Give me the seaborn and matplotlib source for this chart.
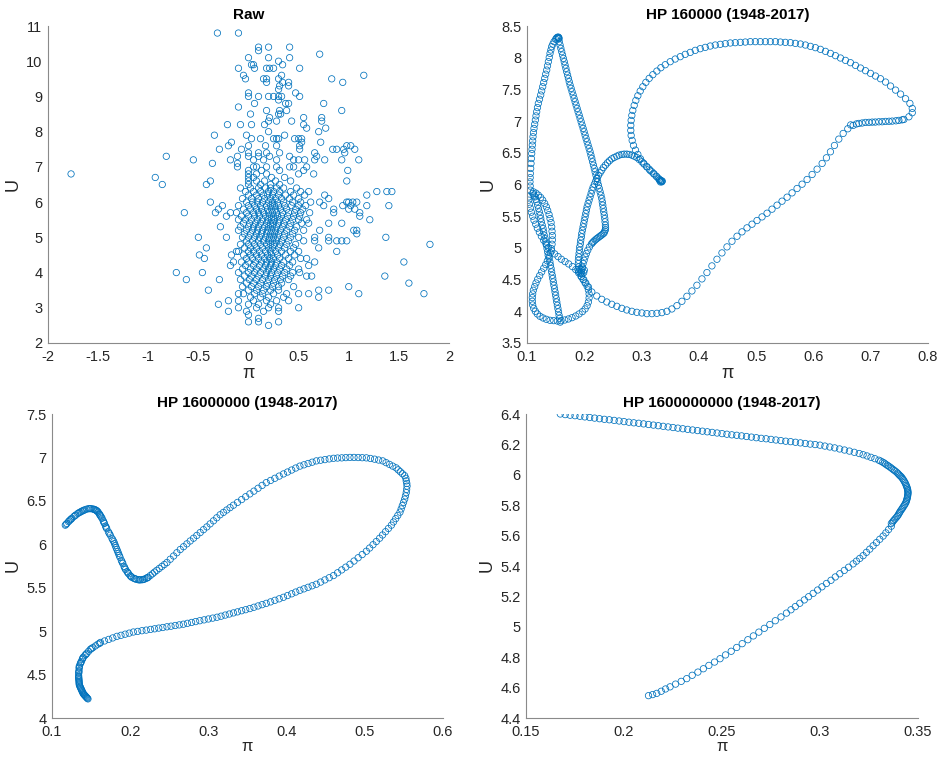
import numpy as np
import pandas as pd
import matplotlib
matplotlib.use("Agg")
import matplotlib.pyplot as plt
from matplotlib.ticker import FuncFormatter
import seaborn as sns

# ---------------- data (pi, U) ----------------
raw_outer = [
    (-1.77, 6.8), (-0.31, 10.8), (-0.1, 10.8), (0.1, 10.4), (0.1, 10.3), (0.2, 10.4), (0.41, 10.4), (0.71, 10.2),
    (0.0, 10.1), (0.2, 10.1), (0.41, 10.1), (0.3, 10.0), (0.34, 9.9), (0.03, 9.9), (0.05, 9.9), (-0.1, 9.8),
    (0.06, 9.8), (0.18, 9.8), (0.21, 9.8), (0.25, 9.8), (0.51, 9.8), (-0.05, 9.6), (-0.03, 9.5), (0.15, 9.5),
    (0.18, 9.5), (0.18, 9.4), (0.3, 9.5), (0.33, 9.6), (0.34, 9.4), (0.4, 9.4), (0.4, 9.3), (0.83, 9.5),
    (0.94, 9.4), (1.15, 9.6), (0.0, 9.1), (0.0, 9.0), (0.1, 9.0), (0.2, 9.0), (0.25, 9.0), (0.3, 9.0),
    (0.33, 9.0), (0.3, 9.2), (0.31, 9.3), (0.3, 8.9), (0.47, 9.1), (0.51, 9.0), (-0.1, 8.7), (0.06, 8.8),
    (0.18, 8.6), (0.37, 8.8), (0.4, 8.8), (0.31, 8.6), (0.38, 8.6), (0.75, 8.8), (0.93, 8.6), (0.02, 8.5),
    (0.3, 8.5), (0.32, 8.5), (0.2, 8.3), (0.21, 8.4), (0.28, 8.3), (0.43, 8.3), (0.55, 8.4), (0.55, 8.2),
    (0.73, 8.4), (0.73, 8.3), (-0.21, 8.2), (-0.08, 8.2), (0.03, 8.2), (0.16, 8.2), (0.58, 8.1), (0.77, 8.1),
    (-0.34, 7.9), (-0.02, 7.9), (0.2, 8.0), (0.36, 7.9), (0.7, 8.0), (-0.17, 7.7), (-0.2, 7.6), (-0.29, 7.5),
    (-0.07, 7.5), (0.03, 7.8), (0.12, 7.8), (0.25, 7.8), (0.28, 7.8), (0.3, 7.8), (0.46, 7.8), (0.5, 7.8),
    (0.53, 7.8), (0.53, 7.7), (0.72, 7.7), (0.0, 7.6), (0.17, 7.6), (0.28, 7.6), (0.51, 7.6), (0.51, 7.5),
    (0.84, 7.5), (0.88, 7.5), (0.95, 7.5), (0.98, 7.6), (1.02, 7.6), (1.06, 7.5), (0.0, 7.4), (0.0, 7.3),
    (0.1, 7.4), (0.1, 7.3), (0.18, 7.4), (0.21, 7.3), (0.31, 7.4), (0.41, 7.3), (0.66, 7.4), (0.68, 7.3),
    (0.96, 7.4), (-0.11, 7.3), (-0.11, 7.1), (-0.11, 7.0), (-0.18, 7.2), (-0.36, 7.1), (-0.55, 7.2), (-0.82, 7.3),
    (-0.93, 6.7), (-0.86, 6.5), (-0.42, 6.5), (-0.38, 6.6), (0.05, 7.2), (0.05, 7.0), (0.15, 7.2), (0.28, 7.2),
    (0.45, 7.2), (0.5, 7.2), (0.56, 7.2), (0.66, 7.2), (0.76, 7.2), (0.93, 7.2), (1.1, 7.2), (0.0, 6.9),
    (0.0, 6.8), (0.0, 6.7), (0.0, 6.6), (0.0, 6.5), (0.08, 7.0), (0.08, 6.8), (0.08, 6.6), (0.18, 7.0),
    (0.18, 6.8), (0.28, 7.0), (0.31, 6.9), (0.41, 7.0), (0.45, 7.0), (0.55, 6.9), (0.58, 7.0), (0.5, 6.8),
    (0.65, 6.8), (0.99, 6.9), (0.98, 6.6), (0.13, 6.9), (0.23, 6.7), (0.27, 6.6), (0.36, 6.7), (0.12, 6.5),
    (0.22, 6.5), (0.31, 6.5), (0.42, 6.6), (0.05, 6.7), (0.16, 6.6),
    (-0.64, 5.7), (-0.38, 6.0), (-0.5, 5.0), (-0.49, 4.5), (-0.44, 4.4), (-0.42, 4.7), (-0.72, 4.0), (-0.46, 4.0),
    (-0.62, 3.8), (-0.29, 3.8), (-0.33, 5.7), (-0.3, 5.8), (-0.26, 5.9), (-0.28, 5.3), (-0.22, 5.6), (-0.18, 5.7),
    (-0.22, 5.0), (-0.18, 4.2), (-0.17, 4.5), (-0.15, 4.3), (-0.12, 4.6), (1.28, 6.3), (1.38, 6.3), (1.43, 6.3),
    (1.40, 5.9), (1.21, 5.5), (1.18, 6.2), (1.18, 5.9), (1.11, 5.7), (1.11, 5.6), (1.06, 5.8), (1.05, 5.2),
    (1.08, 5.1), (1.08, 5.2), (1.37, 5.0), (1.55, 4.3), (1.81, 4.8), (1.36, 3.9), (0.88, 4.9), (0.93, 4.9),
    (0.88, 4.6), (0.98, 4.9), (0.8, 5.4), (0.93, 5.4), (0.85, 5.7), (0.85, 5.8), (0.98, 6.0), (1.0, 6.0),
    (1.04, 6.0), (1.08, 6.0), (0.94, 5.9), (1.02, 5.9), (1.0, 5.8), (0.71, 6.0), (0.75, 5.9), (0.76, 6.2),
    (0.8, 6.1), (0.61, 5.7), (0.6, 5.4), (0.71, 5.2), (0.8, 5.0), (0.8, 4.9), (0.66, 5.0), (0.66, 4.9),
    (0.7, 4.7), (0.66, 4.3), (0.58, 4.4), (0.6, 4.2), (0.51, 4.0), (0.58, 3.9), (0.63, 3.9),
]

raw_core = [
    (-0.08, 6.4), (0.02, 6.4), (0.1, 6.4), (0.17, 6.4), (0.22, 6.4), (0.28, 6.4), (0.35, 6.4), (0.48, 6.4),
    (-0.03, 6.3), (0.05, 6.3), (0.12, 6.3), (0.2, 6.3), (0.25, 6.3), (0.31, 6.3), (0.42, 6.3), (0.52, 6.3), (0.6, 6.3),
    (0.0, 6.2), (0.08, 6.2), (0.15, 6.2), (0.19, 6.2), (0.24, 6.2), (0.3, 6.2), (0.37, 6.2), (0.45, 6.2), (0.56, 6.2),
    (-0.06, 6.1), (0.03, 6.1), (0.1, 6.1), (0.16, 6.1), (0.22, 6.1), (0.27, 6.1), (0.33, 6.1), (0.41, 6.1), (0.5, 6.1),
    (-0.02, 6.0), (0.04, 6.0), (0.09, 6.0), (0.14, 6.0), (0.2, 6.0), (0.24, 6.0), (0.29, 6.0), (0.35, 6.0), (0.44, 6.0),
    (0.52, 6.0), (0.62, 6.0),
    (-0.1, 5.9), (0.0, 5.9), (0.06, 5.9), (0.12, 5.9), (0.18, 5.9), (0.22, 5.9), (0.26, 5.9), (0.3, 5.9), (0.36, 5.9),
    (0.43, 5.9), (0.5, 5.9), (0.57, 5.9),
    (-0.05, 5.8), (0.02, 5.8), (0.08, 5.8), (0.13, 5.8), (0.19, 5.8), (0.23, 5.8), (0.27, 5.8), (0.32, 5.8), (0.38, 5.8),
    (0.47, 5.8), (0.54, 5.8),
    (-0.12, 5.7), (-0.02, 5.7), (0.05, 5.7), (0.1, 5.7), (0.15, 5.7), (0.2, 5.7), (0.24, 5.7), (0.28, 5.7), (0.34, 5.7),
    (0.4, 5.7), (0.46, 5.7), (0.52, 5.7),
    (-0.07, 5.6), (0.0, 5.6), (0.06, 5.6), (0.11, 5.6), (0.17, 5.6), (0.21, 5.6), (0.25, 5.6), (0.29, 5.6), (0.33, 5.6),
    (0.39, 5.6), (0.45, 5.6), (0.51, 5.6),
    (-0.1, 5.5), (-0.03, 5.5), (0.03, 5.5), (0.09, 5.5), (0.14, 5.5), (0.19, 5.5), (0.23, 5.5), (0.26, 5.5), (0.31, 5.5),
    (0.37, 5.5), (0.44, 5.5), (0.5, 5.5), (0.58, 5.5),
    (-0.05, 5.4), (0.01, 5.4), (0.07, 5.4), (0.12, 5.4), (0.18, 5.4), (0.22, 5.4), (0.25, 5.4), (0.3, 5.4), (0.35, 5.4),
    (0.42, 5.4), (0.53, 5.4),
    (-0.08, 5.3), (0.0, 5.3), (0.05, 5.3), (0.1, 5.3), (0.16, 5.3), (0.2, 5.3), (0.24, 5.3), (0.28, 5.3), (0.34, 5.3),
    (0.41, 5.3), (0.48, 5.3),
    (-0.1, 5.2), (-0.02, 5.2), (0.04, 5.2), (0.09, 5.2), (0.14, 5.2), (0.19, 5.2), (0.23, 5.2), (0.27, 5.2), (0.32, 5.2),
    (0.38, 5.2), (0.46, 5.2), (0.55, 5.2),
    (-0.04, 5.1), (0.02, 5.1), (0.08, 5.1), (0.13, 5.1), (0.18, 5.1), (0.22, 5.1), (0.26, 5.1), (0.3, 5.1), (0.36, 5.1),
    (0.44, 5.1),
    (-0.06, 5.0), (0.0, 5.0), (0.06, 5.0), (0.11, 5.0), (0.17, 5.0), (0.21, 5.0), (0.25, 5.0), (0.29, 5.0), (0.35, 5.0),
    (0.42, 5.0), (0.5, 5.0),
    (-0.02, 4.9), (0.04, 4.9), (0.1, 4.9), (0.15, 4.9), (0.2, 4.9), (0.24, 4.9), (0.28, 4.9), (0.33, 4.9), (0.4, 4.9),
    (0.55, 4.9),
    (-0.08, 4.8), (0.0, 4.8), (0.06, 4.8), (0.12, 4.8), (0.18, 4.8), (0.22, 4.8), (0.26, 4.8), (0.31, 4.8), (0.38, 4.8),
    (0.47, 4.8),
    (-0.04, 4.7), (0.02, 4.7), (0.08, 4.7), (0.14, 4.7), (0.2, 4.7), (0.24, 4.7), (0.3, 4.7), (0.36, 4.7), (0.45, 4.7),
    (-0.1, 4.6), (0.0, 4.6), (0.05, 4.6), (0.11, 4.6), (0.17, 4.6), (0.22, 4.6), (0.27, 4.6), (0.33, 4.6), (0.42, 4.6),
    (0.5, 4.6),
    (-0.05, 4.5), (0.02, 4.5), (0.08, 4.5), (0.13, 4.5), (0.19, 4.5), (0.23, 4.5), (0.29, 4.5), (0.37, 4.5), (0.46, 4.5),
    (-0.02, 4.4), (0.04, 4.4), (0.1, 4.4), (0.16, 4.4), (0.21, 4.4), (0.25, 4.4), (0.31, 4.4), (0.4, 4.4), (0.52, 4.4),
    (-0.07, 4.3), (0.0, 4.3), (0.07, 4.3), (0.13, 4.3), (0.18, 4.3), (0.23, 4.3), (0.28, 4.3), (0.35, 4.3), (0.44, 4.3),
    (-0.03, 4.2), (0.05, 4.2), (0.11, 4.2), (0.17, 4.2), (0.22, 4.2), (0.27, 4.2), (0.33, 4.2), (0.41, 4.2),
    (-0.06, 4.1), (0.02, 4.1), (0.08, 4.1), (0.15, 4.1), (0.2, 4.1), (0.25, 4.1), (0.31, 4.1), (0.38, 4.1), (0.5, 4.1),
    (-0.1, 4.0), (0.0, 4.0), (0.06, 4.0), (0.12, 4.0), (0.18, 4.0), (0.23, 4.0), (0.29, 4.0), (0.36, 4.0), (0.44, 4.0),
    (-0.04, 3.9), (0.03, 3.9), (0.1, 3.9), (0.17, 3.9), (0.22, 3.9), (0.28, 3.9), (0.34, 3.9), (0.42, 3.9),
    (-0.08, 3.8), (0.01, 3.8), (0.08, 3.8), (0.14, 3.8), (0.2, 3.8), (0.26, 3.8), (0.32, 3.8), (0.4, 3.8),
    (-0.02, 3.7), (0.05, 3.7), (0.12, 3.7), (0.19, 3.7), (0.25, 3.7), (0.33, 3.7),
    (-0.06, 3.6), (0.03, 3.6), (0.1, 3.6), (0.18, 3.6), (0.24, 3.6), (0.3, 3.6), (0.45, 3.6),
    (0.0, 3.5), (0.08, 3.5), (0.15, 3.5), (0.22, 3.5), (0.3, 3.5),
    (-0.05, 3.4), (0.06, 3.4), (0.14, 3.4), (0.25, 3.4), (0.38, 3.4),
    (0.02, 3.3), (0.12, 3.3), (0.2, 3.3), (0.35, 3.3),
    (-0.1, 3.2), (0.05, 3.2), (0.18, 3.2), (0.28, 3.2),
    (0.0, 3.1), (0.1, 3.1), (0.22, 3.1), (0.08, 3.0), (0.3, 3.0), (-0.02, 2.9), (0.15, 2.9),
    (-0.3, 3.1), (-0.2, 3.2), (-0.2, 2.9), (-0.1, 3.0), (0.0, 2.6), (0.0, 2.8), (0.1, 2.6), (0.1, 2.7),
    (0.2, 2.5), (0.2, 3.0), (0.3, 2.9), (0.3, 2.6), (0.4, 3.2), (0.5, 3.0), (0.5, 3.4), (0.6, 3.4),
    (-0.1, 3.4), (-0.4, 3.5), (1.0, 3.6), (1.1, 3.4), (1.6, 3.7), (1.75, 3.4), (0.7, 3.3), (0.7, 3.5), (0.8, 3.5),
]

hp160k_points = [
    (0.158, 3.830), (0.157, 3.890), (0.156, 3.937), (0.155, 3.990), (0.154, 4.042), (0.153, 4.095), (0.152, 4.147),
    (0.151, 4.200), (0.150, 4.253), (0.149, 4.305), (0.148, 4.358), (0.147, 4.410), (0.146, 4.463), (0.145, 4.516),
    (0.144, 4.568), (0.143, 4.621), (0.142, 4.674), (0.141, 4.726), (0.140, 4.779), (0.1385, 4.832), (0.137, 4.884),
    (0.136, 4.937), (0.135, 4.989), (0.134, 5.042), (0.133, 5.095), (0.1315, 5.147), (0.130, 5.200), (0.129, 5.253),
    (0.128, 5.305), (0.1265, 5.358), (0.125, 5.411), (0.124, 5.463), (0.123, 5.516), (0.1215, 5.568), (0.120, 5.621),
    (0.1185, 5.674), (0.117, 5.726), (0.1155, 5.765), (0.114, 5.805), (0.112, 5.832), (0.110, 5.858),
    (0.1058, 5.911), (0.1055, 5.976), (0.1052, 6.042), (0.1055, 6.108), (0.1058, 6.174), (0.1064, 6.253), (0.1070, 6.332),
    (0.1076, 6.410), (0.1082, 6.489), (0.1088, 6.555), (0.1093, 6.621), (0.1099, 6.687), (0.1105, 6.753), (0.1113, 6.818),
    (0.1122, 6.884), (0.1134, 6.950), (0.1146, 7.016), (0.1157, 7.082), (0.1169, 7.147), (0.1183, 7.213), (0.1198, 7.279),
    (0.1218, 7.345), (0.1239, 7.411), (0.1256, 7.476), (0.1274, 7.542), (0.1291, 7.608), (0.1309, 7.674), (0.1326, 7.740),
    (0.1344, 7.805), (0.1358, 7.871), (0.1373, 7.937), (0.1388, 8.003), (0.1402, 8.068), (0.1417, 8.121), (0.1431, 8.174),
    (0.1451, 8.214), (0.1472, 8.253), (0.1500, 8.290), (0.1530, 8.321), (0.1545, 8.326), (0.1555, 8.318), (0.1515, 8.310),
    (0.1560, 8.300),
    (0.1548, 8.305), (0.1562, 8.252), (0.1577, 8.200), (0.1591, 8.147), (0.1606, 8.095), (0.1620, 8.042), (0.1635, 7.989),
    (0.1650, 7.937), (0.1664, 7.884), (0.1679, 7.832), (0.1693, 7.779), (0.1708, 7.726), (0.1723, 7.674), (0.1737, 7.621),
    (0.1752, 7.568), (0.1770, 7.516), (0.1787, 7.463), (0.1805, 7.411), (0.1822, 7.358), (0.1840, 7.305), (0.1857, 7.253),
    (0.1875, 7.200), (0.1892, 7.147), (0.1910, 7.095), (0.1927, 7.042), (0.1945, 6.989), (0.1962, 6.937), (0.1980, 6.884),
    (0.1997, 6.832), (0.2014, 6.779), (0.2031, 6.726), (0.2049, 6.674), (0.2066, 6.621), (0.2084, 6.568), (0.2101, 6.516),
    (0.2116, 6.463), (0.2131, 6.411), (0.2145, 6.358), (0.2160, 6.305), (0.2175, 6.253), (0.2189, 6.200), (0.2204, 6.147),
    (0.2218, 6.095), (0.2233, 6.042), (0.2247, 5.989), (0.2262, 5.937), (0.2276, 5.884), (0.2291, 5.832), (0.2305, 5.779),
    (0.2314, 5.726), (0.2323, 5.674), (0.2331, 5.621), (0.2340, 5.568), (0.2349, 5.516), (0.2358, 5.463), (0.2363, 5.411),
    (0.2369, 5.358), (0.2371, 5.320),
    (0.2369, 5.289), (0.2346, 5.237), (0.2305, 5.205), (0.2259, 5.174), (0.2212, 5.142), (0.2166, 5.105), (0.2125, 5.063),
    (0.2090, 5.016), (0.2061, 4.963), (0.2037, 4.911), (0.2014, 4.858), (0.1997, 4.805), (0.1979, 4.753), (0.1962, 4.700),
    (0.1944, 4.658), (0.2357, 5.265), (0.2328, 5.222), (0.2283, 5.190), (0.2236, 5.158), (0.2189, 5.124), (0.2145, 5.084),
    (0.190, 4.630), (0.193, 4.600), (0.196, 4.590), (0.199, 4.610), (0.200, 4.650), (0.197, 4.680), (0.192, 4.670),
    (0.189, 4.660), (0.195, 4.620),
    (0.3354, 6.042), (0.3314, 6.079), (0.3267, 6.121), (0.3220, 6.163), (0.3180, 6.200), (0.3133, 6.242), (0.3092, 6.279),
    (0.3045, 6.321), (0.3005, 6.358), (0.2958, 6.395), (0.2917, 6.426), (0.2871, 6.447), (0.2830, 6.463), (0.2783, 6.474),
    (0.2742, 6.479), (0.2696, 6.479), (0.2655, 6.474), (0.2608, 6.463), (0.2568, 6.447), (0.2521, 6.426), (0.2480, 6.405),
    (0.2439, 6.374), (0.2404, 6.342), (0.2369, 6.305), (0.2334, 6.268), (0.2305, 6.226), (0.2276, 6.184), (0.2247, 6.142),
    (0.2224, 6.095), (0.2200, 6.053), (0.2177, 6.005), (0.2154, 5.958), (0.2136, 5.911), (0.2119, 5.858), (0.2101, 5.805),
    (0.2084, 5.753), (0.2066, 5.700), (0.2049, 5.647), (0.2037, 5.595), (0.2026, 5.542), (0.2014, 5.489), (0.2002, 5.437),
    (0.1991, 5.384), (0.1979, 5.332), (0.1967, 5.279), (0.1956, 5.226), (0.1950, 5.174), (0.1938, 5.121), (0.1932, 5.068),
    (0.1921, 5.016), (0.1915, 4.963), (0.1909, 4.911), (0.1903, 4.858), (0.1897, 4.805), (0.1897, 4.753), (0.1903, 4.700),
    (0.1111, 5.884), (0.1157, 5.863), (0.1198, 5.832), (0.1239, 5.795), (0.1274, 5.753), (0.1309, 5.700), (0.1338, 5.647),
    (0.1361, 5.589), (0.1385, 5.526), (0.1402, 5.463), (0.1420, 5.400), (0.1431, 5.332), (0.1437, 5.263), (0.1443, 5.195),
    (0.1443, 5.126), (0.1437, 5.058), (0.1425, 4.989), (0.1408, 4.921), (0.1385, 4.858), (0.1355, 4.795), (0.1326, 4.737),
    (0.1291, 4.679), (0.1256, 4.621), (0.1221, 4.563), (0.1186, 4.505), (0.1157, 4.447), (0.1134, 4.389), (0.1111, 4.332),
    (0.1099, 4.274), (0.1093, 4.216), (0.1093, 4.158), (0.1099, 4.100), (0.1117, 4.047), (0.1146, 4.000), (0.1181, 3.958),
    (0.1227, 3.921), (0.1280, 3.895), (0.1338, 3.874), (0.1402, 3.858), (0.1466, 3.853), (0.1530, 3.847), (0.1594, 3.853),
    (0.1659, 3.863), (0.1723, 3.879), (0.1787, 3.900), (0.1851, 3.926), (0.1909, 3.958), (0.1967, 3.995), (0.2014, 4.037),
    (0.2049, 4.089), (0.2072, 4.147), (0.2084, 4.211), (0.2084, 4.274), (0.2072, 4.337), (0.2049, 4.395), (0.2014, 4.447),
    (0.1979, 4.500), (0.1944, 4.547),
    (0.1029, 5.805), (0.1029, 5.753), (0.1041, 5.689), (0.1058, 5.626), (0.1076, 5.563), (0.1099, 5.500), (0.1122, 5.437),
    (0.1152, 5.374), (0.1181, 5.311), (0.1216, 5.247), (0.1251, 5.184), (0.1291, 5.121), (0.1332, 5.063), (0.1379, 5.005),
    (0.1431, 4.953), (0.1484, 4.905), (0.1542, 4.863), (0.1600, 4.821), (0.1664, 4.784), (0.1728, 4.747), (0.1793, 4.705),
    (0.1851, 4.658), (0.1903, 4.605), (0.1950, 4.553), (0.1991, 4.500), (0.2026, 4.447), (0.2072, 4.384),
    (0.2131, 4.305), (0.2218, 4.242), (0.2305, 4.189), (0.2393, 4.147), (0.2480, 4.111), (0.2568, 4.079), (0.2655, 4.047),
    (0.2742, 4.021), (0.2830, 4.000), (0.2917, 3.984), (0.3005, 3.974), (0.3092, 3.963), (0.3180, 3.963), (0.3267, 3.968),
    (0.3354, 3.979), (0.3442, 4.000), (0.3529, 4.037), (0.3617, 4.089), (0.3704, 4.158), (0.3791, 4.237), (0.3879, 4.321),
    (0.3966, 4.411), (0.4054, 4.511), (0.4141, 4.611), (0.4228, 4.716), (0.4316, 4.821), (0.4403, 4.921), (0.4491, 5.016),
    (0.4578, 5.105), (0.4666, 5.184), (0.4753, 5.253), (0.4840, 5.316), (0.4928, 5.374), (0.5015, 5.432), (0.5103, 5.489),
    (0.5190, 5.547), (0.5277, 5.611), (0.5365, 5.674), (0.5452, 5.737), (0.5540, 5.800), (0.5627, 5.868), (0.5714, 5.937),
    (0.5802, 6.005), (0.5889, 6.079), (0.5977, 6.158), (0.6064, 6.242), (0.6152, 6.332), (0.6227, 6.421), (0.6297, 6.516),
    (0.6367, 6.616), (0.6443, 6.716), (0.6519, 6.805), (0.6600, 6.879), (0.6693, 6.932), (0.6793, 6.963), (0.6909, 6.979),
    (0.7026, 6.984), (0.7142, 6.989), (0.7259, 6.995), (0.7375, 7.000), (0.7492, 7.011), (0.7579, 7.026), (0.7667, 7.068),
    (0.665, 6.940), (0.675, 6.955), (0.685, 6.970), (0.697, 6.980), (0.708, 6.985), (0.720, 6.990), (0.732, 6.997),
    (0.744, 7.005), (0.755, 7.020),
    (0.7725, 7.132), (0.7725, 7.200), (0.7684, 7.279), (0.7608, 7.353), (0.7521, 7.426), (0.7434, 7.489), (0.7346, 7.553),
    (0.7259, 7.616), (0.7171, 7.668), (0.7084, 7.711), (0.6996, 7.753), (0.6909, 7.795), (0.6822, 7.837), (0.6734, 7.879),
    (0.6647, 7.921), (0.6559, 7.958), (0.6472, 7.995), (0.6385, 8.032), (0.6297, 8.068), (0.6210, 8.100), (0.6122, 8.132),
    (0.6035, 8.158), (0.5948, 8.179), (0.5860, 8.200), (0.5773, 8.216), (0.5685, 8.226), (0.5598, 8.237), (0.5510, 8.242),
    (0.5423, 8.247), (0.5336, 8.253), (0.5248, 8.253), (0.5161, 8.253), (0.5073, 8.253), (0.4986, 8.253), (0.4899, 8.253),
    (0.4811, 8.247), (0.4724, 8.242), (0.4636, 8.237), (0.4549, 8.232), (0.4462, 8.221), (0.4374, 8.211), (0.4287, 8.200),
    (0.4199, 8.184), (0.4112, 8.163), (0.4024, 8.142), (0.3937, 8.116), (0.3850, 8.084), (0.3762, 8.053), (0.3675, 8.016),
    (0.3587, 7.979), (0.3500, 7.937), (0.3413, 7.889), (0.3337, 7.842), (0.3267, 7.789), (0.3197, 7.732), (0.3133, 7.674),
    (0.3075, 7.611), (0.3022, 7.542), (0.2976, 7.474), (0.2935, 7.400), (0.2900, 7.326), (0.2871, 7.247), (0.2847, 7.168),
    (0.2830, 7.089), (0.2818, 7.011), (0.2812, 6.932), (0.2812, 6.853), (0.2818, 6.774), (0.2836, 6.695), (0.2859, 6.616),
    (0.2894, 6.542), (0.2935, 6.474), (0.2981, 6.405), (0.3034, 6.337), (0.3092, 6.279), (0.3150, 6.221), (0.3209, 6.174),
    (0.3255, 6.132), (0.3296, 6.095), (0.3331, 6.063), (0.335, 6.050), (0.333, 6.040), (0.334, 6.060), (0.336, 6.055),
    (0.331, 6.070),
]

hp16m_points = [
    (0.117, 6.220), (0.119, 6.240), (0.121, 6.260), (0.1235, 6.283), (0.1255, 6.300), (0.128, 6.320), (0.1305, 6.338),
    (0.133, 6.355), (0.136, 6.370), (0.139, 6.385), (0.142, 6.397), (0.1445, 6.405), (0.147, 6.410), (0.150, 6.410),
    (0.1525, 6.406), (0.155, 6.398), (0.157, 6.388), (0.159, 6.370), (0.1605, 6.350), (0.162, 6.328), (0.164, 6.300),
    (0.1655, 6.270), (0.167, 6.240), (0.1685, 6.210), (0.170, 6.180), (0.1722, 6.142), (0.1745, 6.105), (0.1767, 6.068),
    (0.179, 6.030), (0.181, 5.985), (0.183, 5.940), (0.185, 5.895), (0.187, 5.850), (0.1887, 5.815), (0.1905, 5.780),
    (0.1922, 5.745), (0.194, 5.710), (0.196, 5.685), (0.198, 5.660), (0.200, 5.638), (0.202, 5.620), (0.2047, 5.608),
    (0.2075, 5.598), (0.2102, 5.592), (0.213, 5.590), (0.2155, 5.592), (0.218, 5.598), (0.2205, 5.608), (0.223, 5.620),
    (0.118, 6.230), (0.122, 6.270), (0.1245, 6.290), (0.1295, 6.330), (0.1345, 6.363), (0.1375, 6.378), (0.1405, 6.391),
    (0.1485, 6.411), (0.1538, 6.402), (0.156, 6.393), (0.158, 6.380), (0.1612, 6.340), (0.163, 6.314), (0.1662, 6.255),
    (0.1692, 6.195), (0.1733, 6.124), (0.1778, 6.049), (0.180, 6.008), (0.182, 5.962), (0.184, 5.917), (0.186, 5.872),
    (0.1896, 5.797), (0.1931, 5.727), (0.197, 5.672), (0.201, 5.629), (0.2061, 5.603), (0.2116, 5.591), (0.2167, 5.595),
    (0.2217, 5.614),
    (0.2257, 5.640), (0.2285, 5.660), (0.2312, 5.680), (0.234, 5.700), (0.2372, 5.722), (0.2405, 5.745), (0.2437, 5.767),
    (0.247, 5.790), (0.2512, 5.828), (0.2555, 5.865), (0.2597, 5.903), (0.264, 5.940), (0.2682, 5.972), (0.2725, 6.005),
    (0.2767, 6.038), (0.281, 6.070), (0.2852, 6.102), (0.2895, 6.135), (0.2937, 6.168), (0.298, 6.200), (0.3022, 6.235),
    (0.3065, 6.270), (0.3107, 6.305), (0.315, 6.340), (0.3192, 6.367), (0.3235, 6.395), (0.3277, 6.422), (0.332, 6.450),
    (0.3372, 6.482), (0.3425, 6.515), (0.3477, 6.548), (0.353, 6.580), (0.3582, 6.612), (0.3635, 6.645), (0.3687, 6.678),
    (0.374, 6.710), (0.3795, 6.735), (0.385, 6.760), (0.3905, 6.785), (0.396, 6.810), (0.4012, 6.832), (0.4065, 6.855),
    (0.4117, 6.878), (0.417, 6.900), (0.4222, 6.915), (0.4275, 6.930), (0.4327, 6.945), (0.438, 6.960), (0.4435, 6.968),
    (0.449, 6.975), (0.4545, 6.983), (0.460, 6.990), (0.4652, 6.993), (0.4705, 6.995), (0.4757, 6.998), (0.481, 7.000),
    (0.4862, 7.000), (0.4915, 6.999), (0.4967, 6.997), (0.502, 6.995), (0.5072, 6.988), (0.5125, 6.980), (0.5177, 6.970),
    (0.523, 6.960), (0.5272, 6.940), (0.5315, 6.920), (0.5357, 6.900), (0.540, 6.880), (0.5427, 6.857), (0.5455, 6.835),
    (0.5482, 6.812), (0.551, 6.790), (0.5525, 6.760), (0.553, 6.730), (0.5537, 6.700), (0.554, 6.670), (0.5535, 6.632),
    (0.553, 6.595), (0.552, 6.557), (0.551, 6.520), (0.5495, 6.482), (0.548, 6.445), (0.5465, 6.407), (0.545, 6.370),
    (0.5422, 6.332), (0.5395, 6.295), (0.5367, 6.257), (0.534, 6.220), (0.5302, 6.182), (0.5265, 6.145), (0.5227, 6.107),
    (0.519, 6.070), (0.5147, 6.032), (0.5105, 5.995), (0.5062, 5.957), (0.502, 5.920), (0.4967, 5.882), (0.4915, 5.845),
    (0.4862, 5.807), (0.481, 5.770), (0.4757, 5.737), (0.4705, 5.705), (0.4652, 5.672), (0.460, 5.640), (0.4545, 5.615),
    (0.449, 5.590), (0.4435, 5.565), (0.438, 5.540), (0.4327, 5.522), (0.4275, 5.505), (0.4222, 5.487), (0.417, 5.470),
    (0.4117, 5.450), (0.4065, 5.430), (0.4012, 5.410), (0.396, 5.390), (0.3905, 5.372), (0.385, 5.355), (0.3795, 5.337),
    (0.374, 5.320), (0.3687, 5.305), (0.3635, 5.290), (0.3582, 5.275), (0.353, 5.260), (0.3477, 5.247), (0.3425, 5.235),
    (0.3372, 5.222), (0.332, 5.210), (0.3267, 5.197), (0.3215, 5.185), (0.3162, 5.172), (0.311, 5.160), (0.3055, 5.150),
    (0.300, 5.140), (0.2945, 5.130), (0.289, 5.120), (0.2837, 5.110), (0.2785, 5.100), (0.2732, 5.090), (0.268, 5.080),
    (0.2627, 5.072), (0.2575, 5.065), (0.2522, 5.057), (0.247, 5.050), (0.2417, 5.042), (0.2365, 5.035), (0.2312, 5.027),
    (0.226, 5.020), (0.2205, 5.012), (0.215, 5.005), (0.2095, 4.997), (0.204, 4.990), (0.1987, 4.977), (0.1935, 4.965),
    (0.1882, 4.952), (0.183, 4.940), (0.1777, 4.922), (0.1725, 4.905), (0.1672, 4.887), (0.162, 4.870), (0.1587, 4.850),
    (0.1555, 4.830), (0.1522, 4.810), (0.149, 4.790), (0.1467, 4.767), (0.1445, 4.745), (0.1422, 4.722), (0.140, 4.700),
    (0.1387, 4.675), (0.1375, 4.650), (0.1362, 4.625), (0.135, 4.600), (0.1347, 4.572), (0.1345, 4.545), (0.1342, 4.517),
    (0.134, 4.490), (0.1342, 4.462), (0.1345, 4.435), (0.1347, 4.407), (0.135, 4.380), (0.1362, 4.355), (0.1375, 4.330),
    (0.1387, 4.305), (0.140, 4.280), (0.1415, 4.265), (0.143, 4.250), (0.1445, 4.235), (0.146, 4.220),
    (0.161, 4.860), (0.1505, 4.800), (0.1434, 4.733), (0.1393, 4.688), (0.1368, 4.637), (0.1348, 4.586), (0.1343, 4.530),
    (0.1341, 4.476), (0.1343, 4.449), (0.1346, 4.421), (0.1348, 4.393), (0.1356, 4.367), (0.1368, 4.342), (0.1381, 4.317),
    (0.1394, 4.292), (0.1408, 4.272), (0.1422, 4.257), (0.1437, 4.242), (0.1452, 4.227),
]

hp1600m_points = [
    (0.1675, 6.400), (0.170, 6.396), (0.1725, 6.392), (0.175, 6.389), (0.1775, 6.385), (0.180, 6.381), (0.1825, 6.377),
    (0.185, 6.373), (0.1875, 6.369), (0.190, 6.365), (0.1925, 6.362), (0.195, 6.358), (0.1975, 6.354), (0.200, 6.350),
    (0.2025, 6.346), (0.205, 6.342), (0.2075, 6.339), (0.210, 6.335), (0.2125, 6.331), (0.215, 6.327), (0.2175, 6.323),
    (0.220, 6.319), (0.2225, 6.315), (0.225, 6.311), (0.2275, 6.307), (0.230, 6.303), (0.2325, 6.299), (0.235, 6.295),
    (0.2375, 6.291), (0.240, 6.287), (0.2425, 6.283), (0.245, 6.279), (0.2475, 6.275), (0.250, 6.271), (0.2525, 6.267),
    (0.255, 6.263), (0.2575, 6.260), (0.260, 6.256), (0.2625, 6.252), (0.265, 6.248), (0.2675, 6.244), (0.270, 6.240),
    (0.2725, 6.237), (0.275, 6.233), (0.2775, 6.229), (0.280, 6.225), (0.2825, 6.221), (0.285, 6.218), (0.2875, 6.214),
    (0.290, 6.210), (0.2925, 6.206), (0.295, 6.202), (0.2975, 6.199), (0.300, 6.195), (0.3025, 6.189), (0.305, 6.183),
    (0.3075, 6.177), (0.310, 6.170), (0.3125, 6.163), (0.315, 6.156), (0.3175, 6.148), (0.320, 6.140), (0.322, 6.132),
    (0.324, 6.124), (0.326, 6.115), (0.328, 6.106), (0.330, 6.096), (0.332, 6.083), (0.3335, 6.070), (0.335, 6.057),
    (0.3365, 6.043), (0.338, 6.028), (0.3395, 6.012), (0.3405, 5.998), (0.3415, 5.986), (0.3425, 5.968), (0.3433, 5.950),
    (0.3440, 5.930), (0.3445, 5.912), (0.3448, 5.895), (0.3449, 5.878), (0.3447, 5.860), (0.3444, 5.842), (0.3440, 5.824),
    (0.3433, 5.806), (0.3424, 5.788), (0.3415, 5.770), (0.3406, 5.752), (0.3398, 5.734), (0.3387, 5.716), (0.3375, 5.698),
    (0.3364, 5.680),
    (0.331, 6.090), (0.3328, 6.077), (0.3343, 6.063), (0.3358, 6.050), (0.3373, 6.035), (0.3388, 6.020), (0.340, 6.005),
    (0.341, 5.992), (0.342, 5.977), (0.3429, 5.959), (0.3437, 5.940), (0.3443, 5.921), (0.3447, 5.903), (0.3449, 5.886),
    (0.3448, 5.869), (0.3446, 5.851), (0.3442, 5.833), (0.3437, 5.815), (0.3429, 5.797), (0.342, 5.779), (0.341, 5.761),
    (0.3402, 5.743), (0.3393, 5.725), (0.3381, 5.707), (0.3370, 5.689),
    (0.3364, 5.662), (0.3350, 5.640), (0.3336, 5.618), (0.3322, 5.597), (0.3305, 5.576), (0.3288, 5.554),
    (0.3271, 5.533), (0.3254, 5.511), (0.3237, 5.490), (0.3220, 5.468), (0.3203, 5.450), (0.3186, 5.432), (0.3169, 5.414),
    (0.3146, 5.392), (0.3124, 5.371), (0.3101, 5.349), (0.3078, 5.328), (0.3056, 5.306), (0.3033, 5.285), (0.3010, 5.263),
    (0.2988, 5.242), (0.2965, 5.220), (0.2942, 5.198), (0.2920, 5.177), (0.2897, 5.155), (0.2874, 5.133), (0.2852, 5.112),
    (0.2829, 5.090), (0.2801, 5.065), (0.2772, 5.040), (0.2744, 5.015), (0.2716, 4.990), (0.2688, 4.965), (0.2660, 4.940),
    (0.2632, 4.915), (0.2603, 4.889), (0.2575, 4.864), (0.2547, 4.839), (0.2518, 4.815), (0.2490, 4.790), (0.2462, 4.768),
    (0.2433, 4.746), (0.2405, 4.724), (0.2377, 4.702), (0.2348, 4.681), (0.2320, 4.659), (0.2292, 4.641), (0.2263, 4.623),
    (0.2235, 4.605), (0.2212, 4.591), (0.2190, 4.576), (0.2167, 4.562), (0.2146, 4.554), (0.2125, 4.547),
]

titles = ["Raw", "HP 160000 (1948-2017)", "HP 16000000 (1948-2017)", "HP 1600000000 (1948-2017)"]
xlims = [(-2, 2), (0.1, 0.8), (0.1, 0.6), (0.15, 0.35)]
ylims = [(2, 11), (3.5, 8.5), (4, 7.5), (4.4, 6.4)]
xticks = [[-2, -1.5, -1, -0.5, 0, 0.5, 1, 1.5, 2],
          [0.1, 0.2, 0.3, 0.4, 0.5, 0.6, 0.7, 0.8],
          [0.1, 0.2, 0.3, 0.4, 0.5, 0.6],
          [0.15, 0.2, 0.25, 0.3, 0.35]]
yticks = [[2, 3, 4, 5, 6, 7, 8, 9, 10, 11],
          [3.5, 4, 4.5, 5, 5.5, 6, 6.5, 7, 7.5, 8, 8.5],
          [4, 4.5, 5, 5.5, 6, 6.5, 7, 7.5],
          [4.4, 4.6, 4.8, 5, 5.2, 5.4, 5.6, 5.8, 6, 6.2, 6.4]]

# ---------------- style ----------------
sns.set_theme(style="white")
plt.rcParams['font.family'] = ['Liberation Sans', 'DejaVu Sans']
BLUE = "#0072BD"
AXC = "#8a8a8a"
TXT = "#262626"

fig = plt.figure(figsize=(9.42, 7.6), dpi=100)
positions = [
    [48 / 942, 1 - 343 / 760, 401 / 942, 317 / 760],
    [527 / 942, 1 - 343 / 760, 401 / 942, 317 / 760],
    [52 / 942, 1 - 718 / 760, 391 / 942, 304 / 760],
    [526 / 942, 1 - 718 / 760, 392 / 942, 304 / 760],
]
datasets = [raw_outer + raw_core, hp160k_points, hp16m_points, hp1600m_points]

fmt = FuncFormatter(lambda v, p: f"{v:g}")

for i in range(4):
    ax = fig.add_axes(positions[i])
    df = pd.DataFrame(datasets[i], columns=["pi", "U"])
    sns.scatterplot(data=df, x="pi", y="U", ax=ax, marker="o", s=21,
                    facecolors="none", edgecolor=BLUE, linewidth=0.55, legend=False)
    ax.set_xlim(*xlims[i])
    ax.set_ylim(*ylims[i])
    ax.set_xticks(xticks[i])
    ax.set_yticks(yticks[i])
    ax.xaxis.set_major_formatter(fmt)
    ax.yaxis.set_major_formatter(fmt)
    for s in ["top", "right"]:
        ax.spines[s].set_visible(False)
    for s in ["left", "bottom"]:
        ax.spines[s].set_color(AXC)
        ax.spines[s].set_linewidth(0.8)
    ax.tick_params(direction="in", length=4, width=0.6, color=AXC,
                   labelsize=10.5, labelcolor=TXT)
    bottom_row = i >= 2
    ax.tick_params(axis="x", pad=5)
    ax.tick_params(axis="y", pad=4)
    ax.set_title(titles[i], fontsize=11, fontweight="bold", color="black", pad=5)
    ax.set_xlabel("π", fontsize=12 if bottom_row else 13, color=TXT,
                  labelpad=0 if bottom_row else 1)
    ax.set_ylabel("U", fontsize=13, color=TXT, labelpad=3)
    ax.set_facecolor("white")

fig.savefig("out.png", dpi=100, facecolor="white")
